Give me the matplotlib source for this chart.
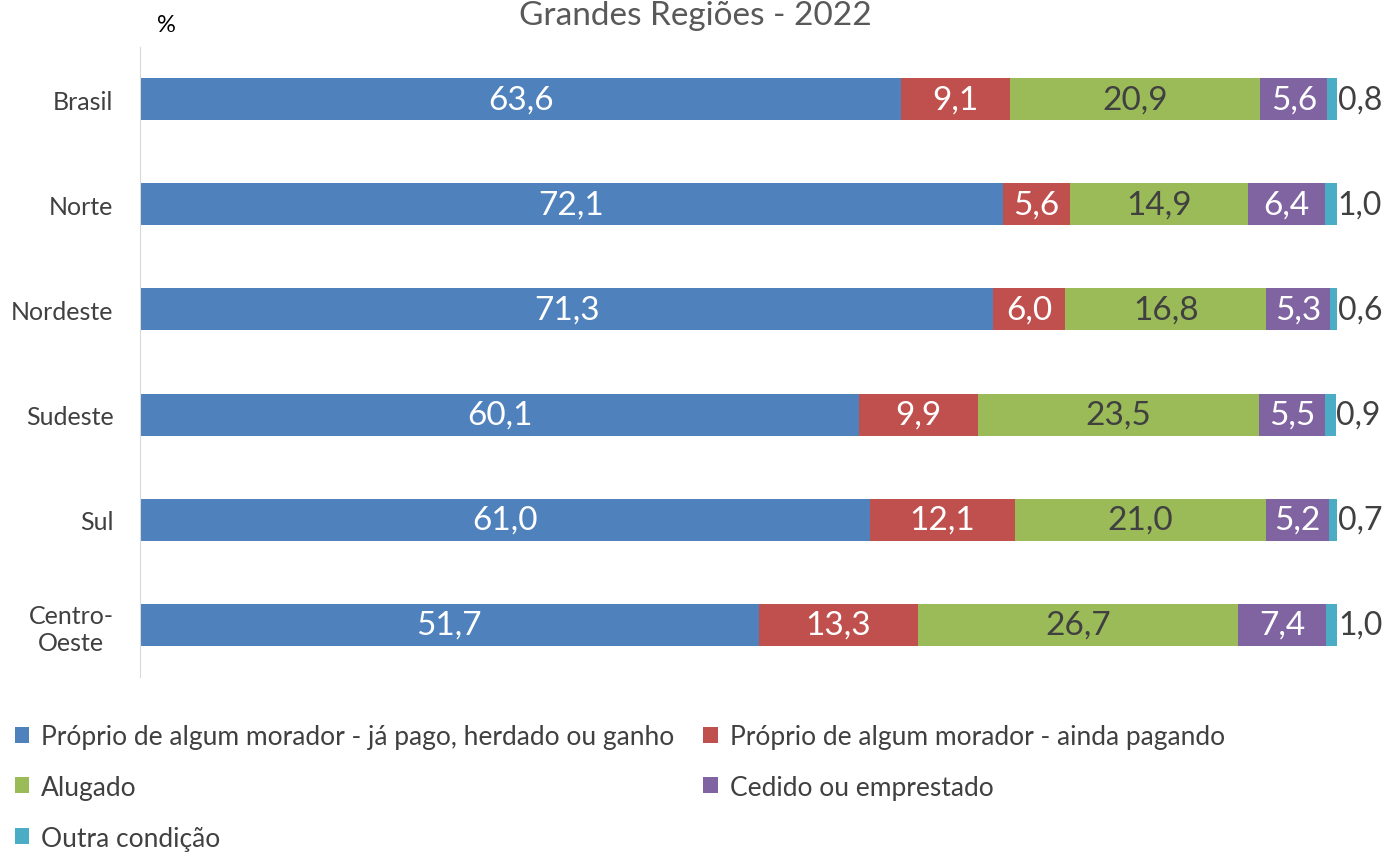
import matplotlib
matplotlib.use('Agg')
import matplotlib.pyplot as plt
import numpy as np

plt.rcParams['font.family'] = ['Lato', 'DejaVu Sans']

## data
regions = ['Brasil', 'Norte', 'Nordeste', 'Sudeste', 'Sul', 'Centro-\nOeste']
pago = [63.6, 72.1, 71.3, 60.1, 61.0, 51.7]
pagando = [9.1, 5.6, 6.0, 9.9, 12.1, 13.3]
alugado = [20.9, 14.9, 16.8, 23.5, 21.0, 26.7]
cedido = [5.6, 6.4, 5.3, 5.5, 5.2, 7.4]
outra = [0.8, 1.0, 0.6, 0.9, 0.7, 1.0]

series_names = ['Próprio de algum morador - já pago, herdado ou ganho',
                'Próprio de algum morador - ainda pagando',
                'Alugado',
                'Cedido ou emprestado',
                'Outra condição']
series = [pago, pagando, alugado, cedido, outra]
colors = ['#4F81BD', '#C0504D', '#9BBB59', '#8064A2', '#4BACC6']
label_colors = ['white', 'white', '#404040', 'white', None]

fig = plt.figure(figsize=(13.83, 8.53), dpi=100)
ax = fig.add_axes([0.1012, 0.2046, 0.8655, 0.7397])

y = np.arange(len(regions))
left = np.zeros(len(regions))
handles = []
for vals, name, col, lcol in zip(series, series_names, colors, label_colors):
    vals = np.array(vals)
    bars = ax.barh(y, vals, left=left, height=0.4, color=col, label=name)
    handles.append(bars)
    for yi, (l, v) in enumerate(zip(left, vals)):
        txt = '{:.1f}'.format(v).replace('.', ',')
        if lcol is None:
            ax.text(l + v + 0.05, yi, txt, ha='left', va='center',
                    fontsize=23, color='#404040')
        else:
            ax.text(l + v / 2, yi, txt, ha='center', va='center',
                    fontsize=24, color=lcol)
    left = left + vals

ax.set_xlim(0, 100)
ax.set_ylim(5.5, -0.5)
ax.set_yticks(y)
ax.set_yticklabels(regions, fontsize=18, color='#404040', ha='right',
                   multialignment='center')
ax.tick_params(axis='y', length=0, pad=19)
ax.tick_params(axis='x', bottom=False, labelbottom=False)
for s in ['top', 'right', 'bottom']:
    ax.spines[s].set_visible(False)
ax.spines['left'].set_color('#D9D9D9')

## legend, row-major order
order = [0, 2, 4, 1, 3]
fig.legend([handles[i] for i in order], [series_names[i] for i in order],
           ncol=2, loc='upper left', bbox_to_anchor=(-0.0065, 0.178),
           frameon=False, fontsize=19, labelcolor='#404040',
           handlelength=0.55, handleheight=0.55, handletextpad=0.45,
           columnspacing=1.1, labelspacing=0.98)

fig.text(0.503, 0.999, 'Grandes Regiões - 2022', ha='center', va='top',
         fontsize=24, color='#595959')
fig.text(0.12, 0.97, '%', ha='center', va='center', fontsize=17, color='black')

fig.savefig('out.png', dpi=100)
